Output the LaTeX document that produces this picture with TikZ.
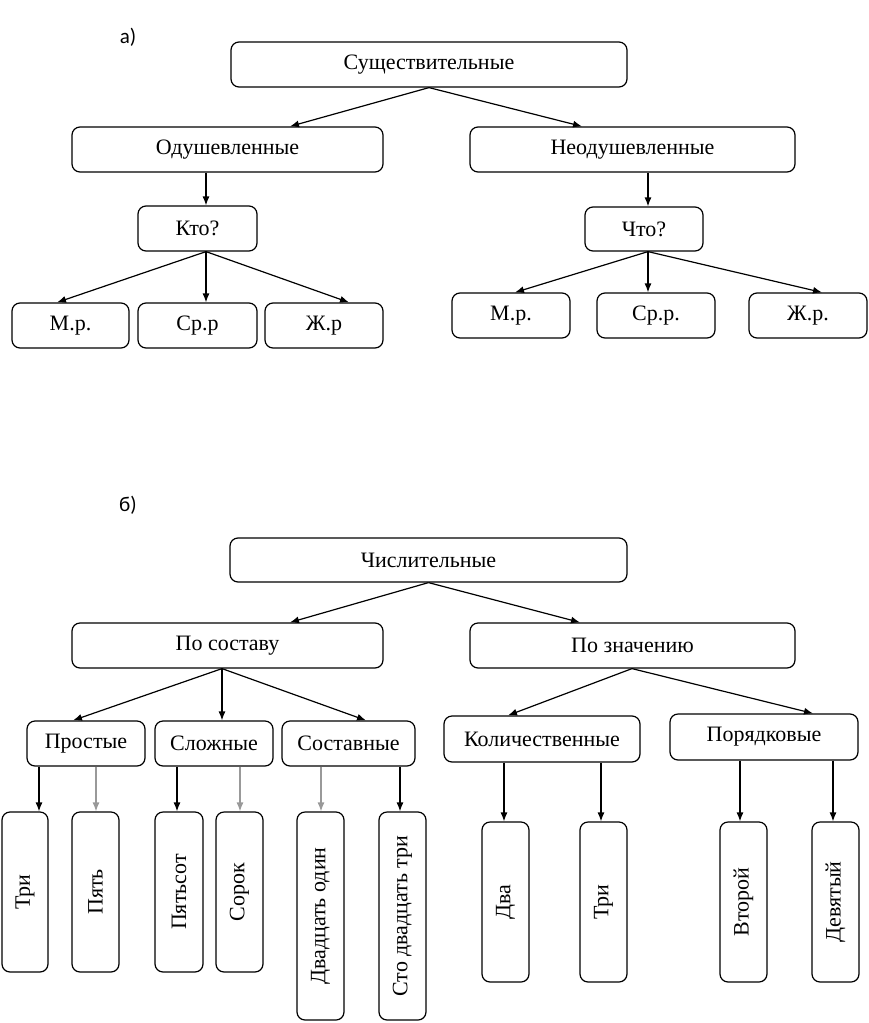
\documentclass[tikz,border=0pt]{standalone}
\usepackage{fontspec}
\setmainfont{Liberation Serif}
\newfontfamily\lblfont{Carlito}
\usetikzlibrary{arrows.meta}
\tikzset{
  rbox/.style={draw, line width=1.2pt, rounded corners=8pt, inner sep=0pt, font=\fontsize{22}{24}\selectfont},
  conn/.style={line width=1.2pt, -{Latex[length=9pt,width=7pt]}},
  gconn/.style={conn, draw=black!40},
  lbl/.style={font=\lblfont\fontsize{21}{23}\selectfont, inner sep=0pt}
}
\begin{document}
\begin{tikzpicture}[x=1pt,y=-1pt]
\useasboundingbox (0,0) rectangle (868,1023);
% ---- part a ----
\node[lbl] (la) at (128,37) {а)};
\node[rbox, minimum width=396pt, minimum height=45pt] (sush) at (429,64.5) {Существительные};
\node[rbox, minimum width=311pt, minimum height=45pt] (odush) at (227.5,149.5) {Одушевленные};
\node[rbox, minimum width=325pt, minimum height=45pt] (neod) at (632.5,149.5) {Неодушевленные};
\node[rbox, minimum width=119pt, minimum height=45pt] (kto) at (197.5,228.5) {Кто?};
\node[rbox, minimum width=118pt, minimum height=44pt] (chto) at (644,229) {Что?};
\node[rbox, minimum width=117pt, minimum height=45pt] (mr1) at (70.5,325.5) {М.р.};
\node[rbox, minimum width=119pt, minimum height=45pt] (sr1) at (197.5,325.5) {Ср.р};
\node[rbox, minimum width=118pt, minimum height=45pt] (zh1) at (324,325.5) {Ж.р};
\node[rbox, minimum width=118pt, minimum height=45pt] (mr2) at (511,315.5) {М.р.};
\node[rbox, minimum width=118pt, minimum height=45pt] (sr2) at (656,315.5) {Ср.р.};
\node[rbox, minimum width=118pt, minimum height=45pt] (zh2) at (808,315.5) {Ж.р.};
\draw[conn] (sush.south) -- ([xshift=62.5pt]odush.north);
\draw[conn] (sush.south) -- ([xshift=-50.5pt]neod.north);
\draw[conn] ([xshift=-21.5pt]odush.south) -- ([xshift=8.5pt]kto.north);
\draw[conn] ([xshift=15.5pt]neod.south) -- ([xshift=4pt]chto.north);
\draw[conn] ([xshift=8.5pt]kto.south) -- ([xshift=-13.5pt]mr1.north);
\draw[conn] ([xshift=8.5pt]kto.south) -- ([xshift=8.5pt]sr1.north);
\draw[conn] ([xshift=8.5pt]kto.south) -- ([xshift=25pt]zh1.north);
\draw[conn] ([xshift=4pt]chto.south) -- ([xshift=4pt]mr2.north);
\draw[conn] ([xshift=4pt]chto.south) -- ([xshift=-8pt]sr2.north);
\draw[conn] ([xshift=4pt]chto.south) -- ([xshift=14pt]zh2.north);
% ---- part b ----
\node[lbl] (lb) at (128,505) {б)};
\node[rbox, minimum width=397pt, minimum height=44pt] (chisl) at (428.5,560) {Числительные};
\node[rbox, minimum width=311pt, minimum height=45pt] (sost) at (227.5,645.5) {По составу};
\node[rbox, minimum width=325pt, minimum height=45pt] (znach) at (632.5,645.5) {По значению};
\node[rbox, minimum width=118pt, minimum height=45pt] (prost) at (86,743.5) {Простые};
\node[rbox, minimum width=118pt, minimum height=45pt] (slozh) at (214,743.5) {Сложные};
\node[rbox, minimum width=133pt, minimum height=45pt] (sostav) at (348.5,743.5) {Составные};
\node[rbox, minimum width=196pt, minimum height=46pt] (kolich) at (542,739) {Количественные};
\node[rbox, minimum width=188pt, minimum height=46pt] (poryad) at (764,737) {Порядковые};
\draw[conn] (chisl.south) -- ([xshift=62.5pt]sost.north);
\draw[conn] (chisl.south) -- ([xshift=-52.5pt]znach.north);
\draw[conn] ([xshift=-5.5pt]sost.south) -- ([xshift=-13pt]prost.north);
\draw[conn] ([xshift=-5.5pt]sost.south) -- ([xshift=8pt]slozh.north);
\draw[conn] ([xshift=-5.5pt]sost.south) -- ([xshift=17.5pt]sostav.north);
\draw[conn] ([xshift=-0.5pt]znach.south) -- ([xshift=-34pt]kolich.north);
\draw[conn] ([xshift=-0.5pt]znach.south) -- ([xshift=49pt]poryad.north);
% vertical boxes
\node[rbox, minimum width=46pt, minimum height=160pt] (tri1) at (25,892) {\rotatebox{90}{Три}};
\node[rbox, minimum width=47pt, minimum height=160pt] (pyat) at (95.5,892) {\rotatebox{90}{Пять}};
\node[rbox, minimum width=48pt, minimum height=160pt] (pyatsot) at (179,892) {\rotatebox{90}{Пятьсот}};
\node[rbox, minimum width=47pt, minimum height=160pt] (sorok) at (239.5,892) {\rotatebox{90}{Сорок}};
\node[rbox, minimum width=47pt, minimum height=208pt] (dv1) at (320.5,916) {\rotatebox{90}{Двадцать один}};
\node[rbox, minimum width=47pt, minimum height=208pt] (sto) at (402.5,916) {\rotatebox{90}{Сто двадцать три}};
\node[rbox, minimum width=47pt, minimum height=160pt] (dva) at (505.5,902) {\rotatebox{90}{Два}};
\node[rbox, minimum width=47pt, minimum height=160pt] (tri2) at (603.5,902) {\rotatebox{90}{Три}};
\node[rbox, minimum width=47pt, minimum height=160pt] (vtoroy) at (743.5,902) {\rotatebox{90}{Второй}};
\node[rbox, minimum width=47pt, minimum height=160pt] (devyat) at (835.5,902) {\rotatebox{90}{Девятый}};
\draw[conn] ([xshift=-47pt]prost.south) -- ([xshift=-47pt]prost.south |- tri1.north);
\draw[gconn] ([xshift=10pt]prost.south) -- ([xshift=10pt]prost.south |- pyat.north);
\draw[conn] ([xshift=-37pt]slozh.south) -- ([xshift=-37pt]slozh.south |- pyatsot.north);
\draw[gconn] ([xshift=26pt]slozh.south) -- ([xshift=26pt]slozh.south |- sorok.north);
\draw[gconn] ([xshift=-27.5pt]sostav.south) -- ([xshift=-27.5pt]sostav.south |- dv1.north);
\draw[conn] ([xshift=51.5pt]sostav.south) -- ([xshift=51.5pt]sostav.south |- sto.north);
\draw[conn] ([xshift=-38pt]kolich.south) -- ([xshift=-38pt]kolich.south |- dva.north);
\draw[conn] ([xshift=59pt]kolich.south) -- ([xshift=59pt]kolich.south |- tri2.north);
\draw[conn] ([xshift=-24pt]poryad.south) -- ([xshift=-24pt]poryad.south |- vtoroy.north);
\draw[conn] ([xshift=69pt]poryad.south) -- ([xshift=69pt]poryad.south |- devyat.north);
\end{tikzpicture}
\end{document}
